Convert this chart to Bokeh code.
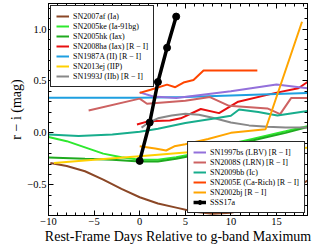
from bokeh.plotting import figure
from bokeh.models import Range1d, LinearAxis, Legend, LegendItem, FixedTicker
from bokeh.embed import file_html
from bokeh.resources import INLINE

# ---------------- data ----------------
sn2007af_x = [-9.8, -8, -6, -4, -2, 0, 2, 4, 6, 8, 10, 12, 14, 16, 18.4]
sn2007af_y = [-0.29, -0.32, -0.37, -0.45, -0.54, -0.62, -0.68, -0.72, -0.76, -0.78, -0.77, -0.73, -0.66, -0.58, -0.46]

sn2005ke_x = [-10, -8, -6, -4, -2, 0, 2, 4, 6, 8, 10, 12, 14, 16, 18.4]
sn2005ke_y = [-0.04, -0.08, -0.14, -0.20, -0.235, -0.26, -0.26, -0.235, -0.20, -0.16, -0.105, -0.065, -0.025, 0.015, 0.065]

sn2005hk_x = [-10, -6, -3, 0, 2, 4, 6, 8, 10, 12, 14, 16, 18.4]
sn2005hk_y = [-0.237, -0.25, -0.258, -0.275, -0.275, -0.25, -0.215, -0.175, -0.12, -0.08, -0.04, 0.0, 0.055]

sn2008ha_x = [-0.3, 1.0, 3.3, 4.5, 6.7, 8.7, 10.8, 14.9, 17.4, 18.4]
sn2008ha_y = [0.08, 0.113, 0.12, 0.14, 0.23, 0.19, 0.30, 0.385, 0.43, 0.49]

sn1987a_x = [-10, -5, 0, 5, 10, 15, 18.4]
sn1987a_y = [0.337, 0.337, 0.338, 0.345, 0.36, 0.375, 0.385]

sn2013ej_x = [-9.4, -5, 0, 5, 10, 15, 18.4]
sn2013ej_y = [-0.29, -0.26, -0.225, -0.19, -0.17, -0.155, -0.143]

sn1993j_x = [0.2, 1.0, 2, 3.5, 5, 6.5, 8, 10, 12, 14, 16, 18.4]
sn1993j_y = [0.05, 0.10, 0.14, 0.167, 0.183, 0.175, 0.145, 0.10, 0.072, 0.058, 0.052, 0.052]

sn1997bs_x = [0, 1.5, 4, 10, 15, 18.4]
sn1997bs_y = [0.39, 0.35, 0.335, 0.40, 0.465, 0.43]

sn2008s_x = [-5.6, 0, 0.8, 5, 7.7, 9.8, 14, 15.4, 16.6, 18.4]
sn2008s_y = [0.215, 0.33, 0.28, 0.31, 0.345, 0.26, 0.235, 0.18, 0.335, 0.335]

sn2009bb_x = [-10, -6.7, -3, 0, 2, 5, 8, 10, 10.9, 13, 15.1, 18.4]
sn2009bb_y = [-0.015, -0.03, -0.015, 0.01, 0.04, 0.095, 0.135, 0.165, 0.225, 0.20, 0.167, 0.21]

sn2005e_x = [0, 1.2, 3, 3.9, 4.8, 5.9, 7.0, 12.9]
sn2005e_y = [0.385, 0.415, 0.465, 0.44, 0.485, 0.51, 0.60, 0.60]

sn2002bj_x = [0, 1.7, 2.9, 3.8, 5, 7.5, 10, 13.8, 17.8]
sn2002bj_y = [-0.13, -0.15, -0.17, -0.13, -0.11, -0.06, 0.0, 0.035, 1.07]

sss17a_x = [0, 1.1, 2, 3, 4]
sss17a_y = [-0.27, 0.10, 0.49, 0.82, 1.12]

x_ticks = [-10, -5, 0, 5, 10, 15]
x_tick_labels = ["\u221210", "\u22125", "0", "5", "10", "15"]
y_ticks = [-0.5, 0.0, 0.5, 1.0]
y_tick_labels = ["\u22120.5", "0.0", "0.5", "1.0"]

FONT = "Liberation Serif"

p = figure(width=318, height=246, output_backend="svg", toolbar_location=None,
           x_range=Range1d(-10, 18.4), y_range=Range1d(-0.796, 1.246),
           min_border_left=48, min_border_right=11, min_border_top=3, min_border_bottom=29)
p.xgrid.visible = False
p.ygrid.visible = False
p.outline_line_color = "black"
p.outline_line_width = 1
p.outline_line_alpha = 1
p.background_fill_color = "white"

x_minor = list(range(-10, 19))
y_minor = [round(-0.7 + 0.1 * i, 2) for i in range(20)]


def style_axis(ax, label_standoff):
    ax.major_tick_in = 5
    ax.major_tick_out = 0
    ax.minor_tick_in = 3
    ax.minor_tick_out = 0
    ax.axis_line_color = "black"
    ax.major_tick_line_color = "black"
    ax.minor_tick_line_color = "black"
    ax.major_label_text_font = FONT
    ax.major_label_text_color = "black"
    ax.major_label_text_font_size = "10.5px"
    ax.major_label_standoff = 2
    ax.axis_label_text_font = FONT
    ax.axis_label_text_font_style = "normal"
    ax.axis_label_text_color = "black"
    ax.axis_label_text_font_size = "14px"
    ax.axis_label_standoff = label_standoff


p.xaxis.ticker = FixedTicker(ticks=x_ticks, minor_ticks=x_minor)
p.yaxis.ticker = FixedTicker(ticks=y_ticks, minor_ticks=y_minor)
p.xaxis.major_label_overrides = dict(zip(x_ticks, x_tick_labels))
p.yaxis.major_label_overrides = dict(zip(y_ticks, y_tick_labels))
p.xaxis.axis_label = "Rest-Frame Days Relative to g-band Maximum"
p.yaxis.axis_label = "r \u2212 i (mag)"
style_axis(p.xaxis[0], 1)
style_axis(p.yaxis[0], 0)


# label-free tick axes on the top and right edges (ticks only, no texts)
def tick_only_axis(minor, length):
    ax = LinearAxis(ticker=FixedTicker(ticks=[], minor_ticks=minor))
    ax.major_tick_in = 0
    ax.major_tick_out = 0
    ax.minor_tick_in = length
    ax.minor_tick_out = 0
    ax.axis_line_color = "black"
    ax.minor_tick_line_color = "black"
    ax.major_label_standoff = 0
    return ax


p.add_layout(tick_only_axis(x_minor, 3), "above")
p.add_layout(tick_only_axis(x_ticks, 5), "above")
p.add_layout(tick_only_axis(y_minor, 3), "right")
p.add_layout(tick_only_axis(y_ticks, 5), "right")

series = [
    ("SN2007af (Ia)", sn2007af_x, sn2007af_y, "#8b4726", 1),
    ("SN2005ke (Ia-91bg)", sn2005ke_x, sn2005ke_y, "#2ee82e", 1),
    ("SN2005hk (Iax)", sn2005hk_x, sn2005hk_y, "#1faa1f", 1),
    ("SN2008ha (Iax) [R \u2212 I]", sn2008ha_x, sn2008ha_y, "#e81010", 1),
    ("SN1987A (II) [R \u2212 I]", sn1987a_x, sn1987a_y, "#1e9fe0", 1),
    ("SN2013ej (IIP)", sn2013ej_x, sn2013ej_y, "#ffd000", 1),
    ("SN1993J (IIb) [R \u2212 I]", sn1993j_x, sn1993j_y, "#888888", 1),
    ("SN1997bs (LBV) [R \u2212 I]", sn1997bs_x, sn1997bs_y, "#9370db", 2),
    ("SN2008S (LRN) [R \u2212 I]", sn2008s_x, sn2008s_y, "#cd6262", 2),
    ("SN2009bb (Ic)", sn2009bb_x, sn2009bb_y, "#17ad8c", 2),
    ("SN2005E (Ca-Rich) [R \u2212 I]", sn2005e_x, sn2005e_y, "#ff4500", 2),
    ("SN2002bj [R \u2212 I]", sn2002bj_x, sn2002bj_y, "#ffa500", 2),
]

items1, items2 = [], []
for label, xs, ys, col, grp in series:
    r = p.line(xs, ys, line_color=col, line_width=2)
    (items1 if grp == 1 else items2).append(LegendItem(label=label, renderers=[r]))

r_line = p.line(sss17a_x, sss17a_y, line_color="black", line_width=3.5)
r_pts = p.scatter(sss17a_x, sss17a_y, size=7, fill_color="black", line_color="black")
items2.append(LegendItem(label="SSS17a", renderers=[r_line, r_pts]))


def make_legend(items, loc):
    return Legend(items=items, location=loc, margin=2, padding=5, spacing=0,
                  glyph_height=10, glyph_width=13, label_height=10, label_standoff=4,
                  label_text_font=FONT, label_text_font_size="8px",
                  label_text_color="black",
                  border_line_color="black", border_line_width=1, border_line_alpha=0.85,
                  background_fill_color="white", background_fill_alpha=1)


p.add_layout(make_legend(items1, "top_left"))
p.add_layout(make_legend(items2, "bottom_right"))

open("out.html", "w").write(file_html(p, INLINE))
